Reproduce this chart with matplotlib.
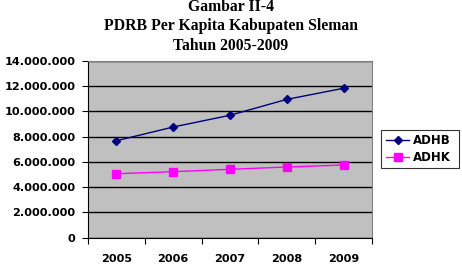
import matplotlib
matplotlib.use("Agg")
import matplotlib.pyplot as plt
from matplotlib.ticker import FuncFormatter
from matplotlib.font_manager import FontProperties

years = ["2005", "2006", "2007", "2008", "2009"]
adhb = [7680000, 8770000, 9700000, 10960000, 11840000]
adhk = [5070000, 5230000, 5420000, 5600000, 5760000]
yticks = [0, 2000000, 4000000, 6000000, 8000000, 10000000, 12000000, 14000000]
title_lines = ["Gambar II-4", "PDRB Per Kapita Kabupaten Sleman", "Tahun 2005-2009"]

W, H = 462, 274
fig = plt.figure(figsize=(W / 100, H / 100), dpi=100)
ax = fig.add_axes([88 / W, 1 - 237.7 / H, (372 - 88) / W, (237.7 - 61) / H])
ax.set_facecolor("#C0C0C0")

x = list(range(len(years)))
ax.plot(x, adhb, color="#000080", marker="D", markersize=4.5, linewidth=1, label="ADHB")
ax.plot(x, adhk, color="#FF00FF", marker="s", markersize=6, linewidth=1, label="ADHK")

tickfont = FontProperties(family="DejaVu Sans", weight="bold", size=8.1)

ax.set_xlim(-0.5, len(years) - 0.5)
ax.set_ylim(0, 14000000)
ax.set_yticks(yticks)
ax.yaxis.set_major_formatter(FuncFormatter(lambda v, p: f"{int(v):,}".replace(",", ".")))
ax.set_xticks([i - 0.5 for i in range(len(years) + 1)])
ax.set_xticklabels([])
ax.set_xticks(x, minor=True)
ax.set_xticklabels(years, minor=True)
ax.tick_params(axis="x", which="minor", length=0, pad=12)
ax.tick_params(axis="x", which="major", length=4, direction="out")
ax.tick_params(axis="y", length=4, direction="out", pad=5)
for lab in ax.get_yticklabels() + ax.get_xticklabels(minor=True):
    lab.set_fontproperties(tickfont)

ax.grid(axis="y", color="black", linewidth=1)
ax.set_axisbelow(True)
ax.spines["top"].set_color("#808080")
ax.spines["right"].set_color("#808080")
ax.spines["left"].set_color("black")
ax.spines["bottom"].set_color("black")

leg = ax.legend(loc="center left", bbox_to_anchor=(381 / W, 1 - 170 / H, 78 / W, 42 / H),
                bbox_transform=fig.transFigure, mode="expand",
                prop=FontProperties(family="DejaVu Sans", weight="bold", size=8.5),
                frameon=True, fancybox=False, borderaxespad=0, handlelength=2.0,
                labelspacing=0.3, borderpad=0.4, handletextpad=0.3)
leg.get_frame().set_edgecolor("black")
leg.get_frame().set_linewidth(0.8)

ys = [7, 26, 46]
for t, yy in zip(title_lines, ys):
    fig.text(0.5, 1 - yy / H, t, ha="center", va="center", fontfamily="Liberation Serif",
             fontweight="bold", fontsize=11.3)

fig.savefig("out.png", dpi=100)
